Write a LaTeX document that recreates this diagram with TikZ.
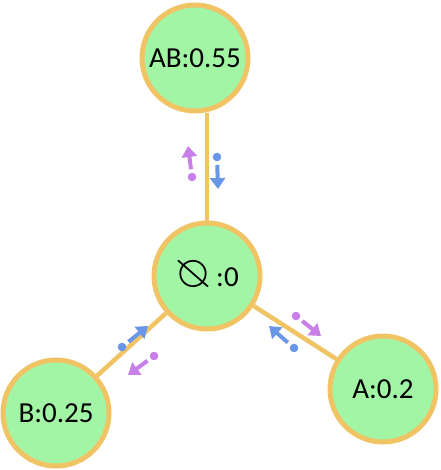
\documentclass[tikz,border=0pt]{standalone}
\usepackage{amssymb}
\usepackage{graphicx}
\usepackage{fontspec}
\setmainfont{Carlito}
\usetikzlibrary{arrows.meta, calc}
\definecolor{statefill}{RGB}{163,245,166}
\definecolor{stateline}{RGB}{240,196,100}
\definecolor{flowblue}{RGB}{106,150,232}
\definecolor{flowviolet}{RGB}{200,128,232}

\begin{document}
\begin{tikzpicture}[x=1pt, y=-1pt,
  state/.style={circle, draw=stateline, fill=statefill, line width=5pt, minimum size=106pt, inner sep=0pt, font=\fontsize{29}{32}\selectfont},
  link/.style={draw=stateline, line width=4.5pt},
  flow/.style={-{Triangle[length=11pt, width=15pt]}, line width=4pt},
]
  \useasboundingbox (0,0) rectangle (440,470);

  \node[state] (ab) at (195,58) {AB:0.55};
  \node[state] (e) at (207,276) {\raisebox{-1pt}{\scalebox{1.6}{\reflectbox{$\varnothing$}}}\,:0};
  \node[state] (b) at (56,413) {B:0.25};
  \node[state] (a) at (383,389) {A:0.2};

  \draw[link] (e.north) -- (e.north |- ab.south);
  \draw[link] (e) -- (b);
  \draw[link] (e) -- (a);

  % dot -> tip of each flow arrow
  \foreach \dx/\dy/\tx/\ty/\col in {192/177/188/146/flowviolet, 217/157/218/189/flowblue,
      122/347/148/326/flowblue, 154/356/128/375/flowviolet,
      296/316/321/336/flowviolet, 294/348/269/326/flowblue} {
    \coordinate (dot) at (\dx,\dy);
    \coordinate (tip) at (\tx,\ty);
    \fill[\col] (dot) circle (4.3pt);
    \draw[flow, \col] ($(dot)!0.25!(tip)$) -- (tip);
  }
\end{tikzpicture}
\end{document}
